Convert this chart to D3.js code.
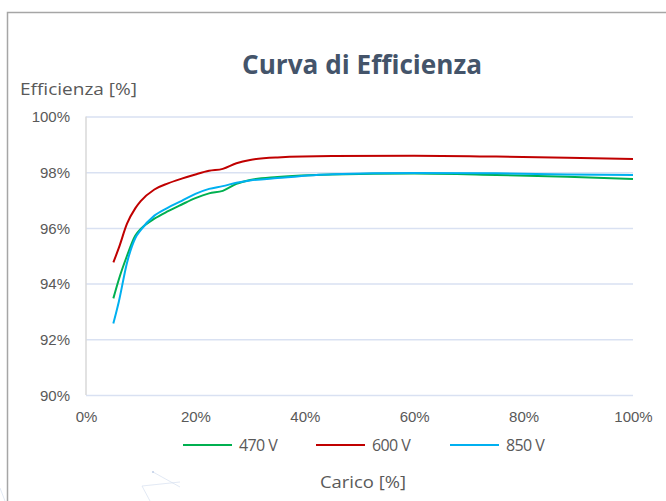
<!DOCTYPE html>
<html><head><meta charset="utf-8">
<script src="https://cdn.jsdelivr.net/npm/d3@7"></script>
<style>
html,body{margin:0;padding:0;background:#fff;}
svg{display:block;font-family:"Open Sans","Noto Sans",sans-serif;}
</style></head>
<body>
<svg id="chart" width="666" height="501"></svg>
<script>
const loadPct = [5, 6, 7.5, 9, 10, 12.5, 15, 17.5, 20, 22.5, 25, 27.5, 30, 35, 45, 60, 75, 88, 100];
const eff470 = [93.47, 94.15, 95.0, 95.72, 95.96, 96.33, 96.60, 96.84, 97.07, 97.24, 97.33, 97.58, 97.72, 97.83, 97.92, 97.95, 97.90, 97.84, 97.76];
const eff600 = [94.76, 95.28, 96.15, 96.70, 96.96, 97.38, 97.60, 97.77, 97.92, 98.05, 98.12, 98.32, 98.44, 98.53, 98.58, 98.59, 98.56, 98.52, 98.47];
const eff850 = [92.57, 93.35, 94.75, 95.63, 95.92, 96.44, 96.73, 96.97, 97.22, 97.40, 97.50, 97.62, 97.70, 97.79, 97.93, 97.97, 97.96, 97.92, 97.90];
const seriesNames = ["470 V", "600 V", "850 V"];
const seriesColors = ["#00B050", "#C00000", "#00B0F0"];
const xTicks = [0, 20, 40, 60, 80, 100];
const yTicks = [90, 92, 94, 96, 98, 100];
const titleText = "Curva di Efficienza";
const yTitle = "Efficienza [%]";
const xTitle = "Carico [%]";

const svg = d3.select("#chart");
const x = d3.scaleLinear().domain([0, 100]).range([86, 633]);
const y = d3.scaleLinear().domain([90, 100]).range([395, 116.5]);

// frame
svg.append("rect").attr("x", 7.5).attr("y", 12.5).attr("width", 700).attr("height", 520)
  .attr("fill", "none").attr("stroke", "#A6A6A6").attr("stroke-width", 1.5);

// faint decoration
const deco = svg.append("g").attr("stroke", "#D5DFEF").attr("stroke-width", 0.7).attr("fill", "none");
deco.append("line").attr("x1", 153).attr("y1", 472).attr("x2", 180).attr("y2", 487);
deco.append("line").attr("x1", 142).attr("y1", 486).attr("x2", 180).attr("y2", 482);
deco.append("line").attr("x1", 142).attr("y1", 486).attr("x2", 150).attr("y2", 501);
deco.append("line").attr("x1", 0).attr("y1", 488).attr("x2", 5).attr("y2", 501);
svg.append("circle").attr("cx", 153).attr("cy", 472).attr("r", 1.1).attr("fill", "#C3D1E8");

// gridlines + y axis
const yAxis = d3.axisLeft(y).tickValues(yTicks).tickSize(-(x(100) - x(0))).tickFormat(d => d + "%").tickPadding(16);
const gy = svg.append("g").attr("transform", `translate(${x(0)},0)`).call(yAxis);
gy.select(".domain").remove();
gy.selectAll(".tick line").attr("stroke", "#D9E1F2").attr("stroke-width", 1.5);
gy.selectAll(".tick text").attr("fill", "#595959").style("font-size", "15px").attr("dy", "0.34em");

// left axis line
svg.append("line").attr("x1", x(0)).attr("x2", x(0)).attr("y1", y(100)).attr("y2", y(90))
  .attr("stroke", "#D9D9D9").attr("stroke-width", 1.5);

// x axis
const gx = svg.append("g").attr("transform", `translate(0,${y(90)})`)
  .call(d3.axisBottom(x).tickValues(xTicks).tickSize(0).tickFormat(d => d + "%").tickPadding(16));
gx.select(".domain").remove();
gx.selectAll(".tick text").attr("fill", "#595959").style("font-size", "15px");

// lines
const allSeries = [eff470, eff600, eff850];
const line = d3.line().x((d, i) => x(loadPct[i])).y(d => y(d)).curve(d3.curveMonotoneX);
allSeries.forEach((s, k) => {
  svg.append("path").datum(s).attr("d", line).attr("fill", "none")
    .attr("stroke", seriesColors[k]).attr("stroke-width", 2).attr("stroke-linejoin", "round");
});

// titles
svg.append("text").attr("x", 362).attr("y", 74).attr("text-anchor", "middle")
  .attr("fill", "#44546A").style("font-size", "27px").style("font-weight", "700")
  .attr("textLength", 240).attr("lengthAdjust", "spacingAndGlyphs").text(titleText);
svg.append("text").attr("x", 20).attr("y", 95).attr("fill", "#595959").style("font-size", "16px")
  .attr("textLength", 117).attr("lengthAdjust", "spacingAndGlyphs").text(yTitle);
svg.append("text").attr("x", 363).attr("y", 488).attr("text-anchor", "middle").attr("fill", "#595959").style("font-size", "16px")
  .attr("textLength", 86).attr("lengthAdjust", "spacingAndGlyphs").text(xTitle);

// legend
const legX = [183, 316, 450];
seriesNames.forEach((n, k) => {
  const g = svg.append("g").attr("transform", `translate(${legX[k]},445)`);
  g.append("line").attr("x1", 0).attr("x2", 49).attr("y1", 0).attr("y2", 0).attr("stroke", seriesColors[k]).attr("stroke-width", 2);
  g.append("text").attr("x", 56).attr("y", 0).attr("dy", "0.35em").attr("fill", "#595959").style("font-size", "16px")
    .style("letter-spacing", "-0.6px").text(n);
});
</script>
</body></html>
